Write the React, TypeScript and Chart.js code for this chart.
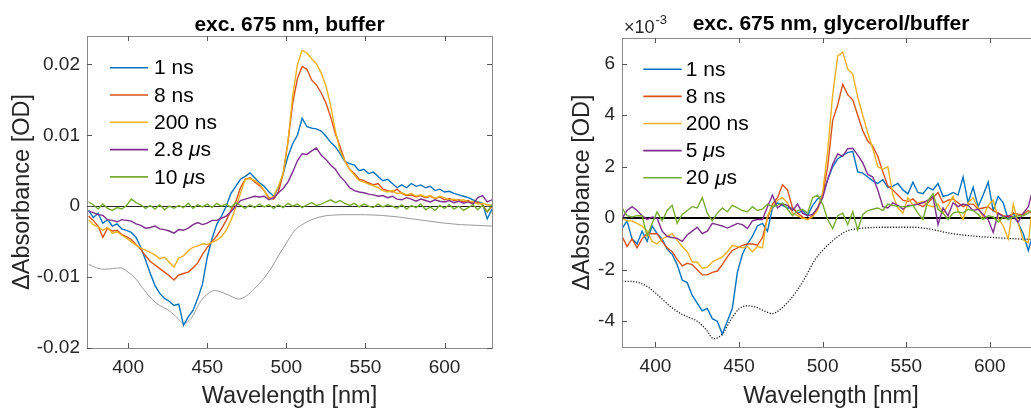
import React, { useEffect, useRef } from "react";
import { Chart, registerables } from "chart.js";

Chart.register(...registerables);

const FONT = "'Liberation Sans', Arial, Helvetica, sans-serif";
const TEXT = "#262626";
const BOX = "#8a8a8a";
const SERIES_COLORS = ["#0072BD", "#D95319", "#EDB120", "#7E2F8E", "#77AC30"];

// ---------- Left panel: exc. 675 nm, buffer (ΔA in OD) ----------
const bufLabels = ["1 ns", "8 ns", "200 ns", "2.8 μs", "10 μs"];
const bufXTicks = [400, 450, 500, 550, 600];
const bufYTicks = [-0.02, -0.01, 0, 0.01, 0.02];
const bufWavelength = [
  375, 378, 381, 384, 387, 390, 393, 396, 399, 402,
  405, 408, 411, 414, 417, 420, 423, 426, 429, 432,
  435, 438, 441, 444, 447, 450, 453, 456, 459, 462,
  465, 468, 471, 474, 477, 480, 483, 486, 489, 492,
  495, 498, 501, 504, 507, 510, 513, 516, 519, 522,
  525, 528, 531, 534, 537, 540, 543, 546, 549, 552,
  555, 558, 561, 564, 567, 570, 573, 576, 579, 582,
  585, 588, 591, 594, 597, 600, 603, 606, 609, 612,
  615, 618, 621, 624, 627, 630,
];
const buf1ns = [
  -0.0006, -0.0016, -0.0010, -0.0024, -0.0019, -0.0028, -0.0025, -0.0032, -0.0034, -0.0037,
  -0.0044, -0.0058, -0.0076, -0.0095, -0.0112, -0.0123, -0.0130, -0.0134, -0.0140, -0.0138,
  -0.0168, -0.0156, -0.0147, -0.0130, -0.0110, -0.0072, -0.0046, -0.0026, -0.0014, 0.0000,
  0.0018, 0.0028, 0.0038, 0.0042, 0.0047, 0.0040, 0.0033, 0.0028, 0.0020, 0.0014,
  0.0026, 0.0046, 0.0070, 0.0088, 0.0100, 0.0124, 0.0112, 0.0110, 0.0109, 0.0106,
  0.0099, 0.0090, 0.0084, 0.0074, 0.0063, 0.0060, 0.0058, 0.0050, 0.0052, 0.0046,
  0.0048, 0.0042, 0.0036, 0.0038, 0.0032, 0.0026, 0.0030, 0.0026, 0.0032, 0.0028,
  0.0030, 0.0026, 0.0028, 0.0022, 0.0024, 0.0020, 0.0021, 0.0018, 0.0016, 0.0014,
  0.0012, 0.0009, 0.0006, 0.0004, -0.0018, -0.0004,
];
const buf8ns = [
  -0.0014, -0.0020, -0.0028, -0.0044, -0.0031, -0.0035, -0.0034, -0.0040, -0.0043, -0.0047,
  -0.0054, -0.0061, -0.0070, -0.0078, -0.0083, -0.0088, -0.0093, -0.0098, -0.0104, -0.0097,
  -0.0095, -0.0093, -0.0087, -0.0080, -0.0068, -0.0058, -0.0050, -0.0042, -0.0032, -0.0020,
  -0.0006, 0.0006, 0.0026, 0.0038, 0.0040, 0.0034, 0.0029, 0.0022, 0.0012, 0.0010,
  0.0020, 0.0046, 0.0090, 0.0145, 0.0180, 0.0197, 0.0193, 0.0178, 0.0171, 0.0160,
  0.0146, 0.0126, 0.0102, 0.0084, 0.0064, 0.0052, 0.0046, 0.0038, 0.0036, 0.0033,
  0.0030, 0.0032, 0.0024, 0.0022, 0.0020, 0.0024, 0.0018, 0.0015, 0.0016, 0.0013,
  0.0015, 0.0012, 0.0014, 0.0011, 0.0013, 0.0009, 0.0011, 0.0008, 0.0009, 0.0006,
  0.0008, 0.0004, 0.0006, 0.0002, -0.0008, 0.0000,
];
const buf200ns = [
  -0.0019, -0.0026, -0.0029, -0.0034, -0.0030, -0.0038, -0.0036, -0.0041, -0.0045, -0.0050,
  -0.0055, -0.0059, -0.0062, -0.0065, -0.0069, -0.0074, -0.0072, -0.0079, -0.0086, -0.0073,
  -0.0070, -0.0063, -0.0058, -0.0056, -0.0053, -0.0054, -0.0051, -0.0048, -0.0043, -0.0034,
  -0.0020, -0.0002, 0.0018, 0.0038, 0.0039, 0.0036, 0.0031, 0.0022, 0.0010, 0.0014,
  0.0028, 0.0046, 0.0090, 0.0155, 0.0200, 0.0220, 0.0216, 0.0208, 0.0201, 0.0188,
  0.0170, 0.0142, 0.0106, 0.0078, 0.0064, 0.0052, 0.0044, 0.0036, 0.0034, 0.0031,
  0.0029, 0.0026, 0.0022, 0.0020, 0.0022, 0.0018, 0.0019, 0.0016, 0.0018, 0.0014,
  0.0016, 0.0013, 0.0015, 0.0011, 0.0014, 0.0012, 0.0009, 0.0010, 0.0008, 0.0009,
  0.0006, 0.0007, 0.0003, 0.0004, 0.0002, 0.0001,
];
const buf2p8us = [
  -0.0007, -0.0009, -0.0012, -0.0013, -0.0019, -0.0020, -0.0022, -0.0019, -0.0020, -0.0021,
  -0.0025, -0.0027, -0.0031, -0.0030, -0.0028, -0.0032, -0.0033, -0.0035, -0.0038, -0.0033,
  -0.0034, -0.0031, -0.0026, -0.0023, -0.0026, -0.0024, -0.0020, -0.0020, -0.0017, -0.0014,
  -0.0008, 0.0000, 0.0008, 0.0010, 0.0012, 0.0014, 0.0013, 0.0014, 0.0009, 0.0012,
  0.0019, 0.0025, 0.0034, 0.0048, 0.0064, 0.0074, 0.0073, 0.0078, 0.0082, 0.0072,
  0.0066, 0.0058, 0.0052, 0.0042, 0.0035, 0.0026, 0.0022, 0.0020, 0.0019, 0.0017,
  0.0016, 0.0014, 0.0015, 0.0012, 0.0014, 0.0010, 0.0009, 0.0012, 0.0010, 0.0007,
  0.0010, 0.0008, 0.0006, 0.0009, 0.0007, 0.0006, 0.0008, 0.0005, 0.0007, 0.0004,
  0.0006, 0.0003, 0.0012, 0.0015, 0.0006, 0.0009,
];
const buf10us = [
  0.0006, 0.0002, -0.0004, 0.0003, -0.0003, -0.0006, -0.0002, -0.0004, 0.0001, 0.0010,
  0.0005, 0.0002, -0.0003, 0.0001, -0.0004, 0.0002, -0.0005, 0.0000, -0.0003, 0.0001,
  -0.0002, 0.0004, -0.0003, 0.0002, -0.0001, 0.0003, -0.0002, 0.0004, 0.0000, 0.0003,
  -0.0002, 0.0005, 0.0001, -0.0003, 0.0002, -0.0002, 0.0003, -0.0001, 0.0002, -0.0003,
  0.0002, -0.0002, 0.0004, 0.0000, 0.0003, -0.0002, 0.0002, 0.0005, 0.0001, 0.0003,
  0.0006, 0.0009, 0.0005, 0.0008, 0.0004, 0.0001, 0.0004, -0.0001, 0.0003, 0.0000,
  -0.0002, 0.0003, -0.0001, 0.0002, 0.0000, -0.0003, 0.0002, -0.0004, 0.0001, -0.0002,
  0.0003, -0.0005, -0.0001, -0.0006, 0.0001, -0.0003, 0.0002, -0.0004, 0.0000, -0.0006,
  -0.0002, 0.0002, -0.0005, 0.0001, -0.0008, 0.0002,
];
const bufRefWavelength = [
  375, 380, 385, 390, 395, 400, 405, 410, 415, 420,
  425, 430, 435, 440, 445, 450, 455, 460, 465, 470,
  475, 480, 485, 490, 495, 500, 505, 510, 515, 520,
  525, 530, 535, 540, 545, 550, 555, 560, 565, 570,
  575, 580, 585, 590, 595, 600, 605, 610, 615, 620,
  625, 630,
];
const bufRef = [
  -0.0082, -0.0087, -0.0089, -0.0088, -0.0087, -0.0093, -0.0103, -0.0118, -0.0131, -0.0140,
  -0.0146, -0.0155, -0.0165, -0.0158, -0.0137, -0.0124, -0.0119, -0.0122, -0.0127, -0.0131,
  -0.0126, -0.0116, -0.0104, -0.0089, -0.0070, -0.0052, -0.0035, -0.0026, -0.0020, -0.0016,
  -0.00135, -0.00125, -0.0012, -0.0012, -0.0012, -0.0012, -0.00125, -0.0013, -0.0014, -0.0015,
  -0.00165, -0.0018, -0.00195, -0.0021, -0.00225, -0.0024, -0.0025, -0.0026, -0.00265, -0.0027,
  -0.00275, -0.0028,
];

// ---------- Right panel: exc. 675 nm, glycerol/buffer (ΔA in 10^-3 OD) ----------
const glyLabels = ["1 ns", "8 ns", "200 ns", "5 μs", "20 μs"];
const glyXTicks = [400, 450, 500, 550, 600];
const glyYTicks = [-4, -2, 0, 2, 4, 6];
const glyWavelength = [
  380, 383, 386, 389, 392, 395, 398, 401, 404, 407,
  410, 413, 416, 419, 422, 425, 428, 431, 434, 437,
  440, 443, 446, 449, 452, 455, 458, 461, 464, 467,
  470, 473, 476, 479, 482, 485, 488, 491, 494, 497,
  500, 503, 506, 509, 512, 515, 518, 521, 524, 527,
  530, 533, 536, 539, 542, 545, 548, 551, 554, 557,
  560, 563, 566, 569, 572, 575, 578, 581, 584, 587,
  590, 593, 596, 599, 602, 605, 608, 611, 614, 617,
  620, 623, 625,
];
const gly1ns = [
  -0.4, -0.1, -0.8, -1.0, -0.5, -0.9, -0.3, -0.6, -0.8, -1.2,
  -1.4, -1.8, -2.4, -2.5, -3.0, -3.3, -3.6, -3.5, -3.9, -4.0,
  -4.5, -4.0, -3.5, -2.1, -1.4, -1.0, -0.7, -0.3, -0.2, -0.5,
  0.4, 0.6, 0.5, 0.4, 0.4, 0.2, 0.3, 0.1, 0.5, 0.75,
  0.9, 1.5, 2.0, 2.3, 2.45, 2.55, 2.6, 1.8, 1.75, 1.6,
  1.45, 1.35, 1.5, 1.2, 1.25, 1.35, 1.1, 0.95, 1.4, 1.0,
  0.95, 1.2, 1.1, 1.35, 0.85, 0.9, 1.0, 0.9, 1.6, 0.6,
  1.2, 0.45, 0.9, 1.4, 0.3, 0.85, 0.6, -0.05, 0.2, -0.2,
  -0.6, -1.25, -0.8,
];
const gly8ns = [
  -0.7, -1.1, -0.8, -1.15, -0.8, -0.6, -0.6, -0.6, -0.9, -1.15,
  -1.3, -1.6, -1.85, -1.75, -1.8, -2.0, -2.2, -2.2, -2.1, -2.05,
  -1.8, -1.5, -1.25, -1.15, -1.05, -1.0, -1.0, -1.05, -0.75, 0.0,
  0.55, 0.8, 1.3, 1.1, 0.4, 0.2, 0.05, -0.05, 0.1, 0.4,
  0.9, 2.0, 3.8, 4.4, 5.2, 4.8, 4.6, 4.0, 3.4, 3.0,
  2.8, 2.4, 1.8, 1.25, 1.1, 0.9, 0.7, 0.65, 0.75, 0.55,
  0.45, 0.6, 0.8, 1.0, 0.6, 0.7, 0.75, 0.6, 0.45, 0.55,
  0.55, 0.35, 0.4, 0.45, 0.3, 0.2, 0.1, 0.05, 0.2, 0.15,
  0.15, 0.3, 0.2,
];
const gly200ns = [
  0.0, -0.1, -0.1, -0.2, -0.3, -0.5, -0.9, -1.0, -0.8, -0.7,
  -0.6, -0.85, -1.1, -1.3, -1.7, -1.7, -1.95, -1.9, -1.7, -1.6,
  -1.5, -1.3, -1.05, -1.1, -1.15, -1.1, -1.3, -1.1, -1.15, 0.1,
  0.45, 0.7, 0.8, 0.6, 0.2, 0.1, 0.0, -0.05, 0.05, 0.3,
  1.0, 2.6, 4.8, 6.3, 6.45, 5.8, 5.6, 4.7, 4.0, 3.3,
  2.7, 2.0, 1.9, 2.0, 0.9, 0.4, 0.2, 0.8, 0.5, 0.6,
  0.65, 0.5, 0.45, 0.55, 0.2, 0.5, 0.85, 0.3, -0.05, 0.6,
  0.8, 0.4, 0.05, 0.5, 0.7, 0.0, -0.3, -0.8, 0.55, -0.2,
  -0.85, -0.95, 0.2,
];
const gly5us = [
  0.0, 0.3, 0.45, 0.3, 0.1, -0.05, 0.05, 0.0, -0.5, -0.7,
  -0.75, -0.78, -0.9, -0.65, -0.5, -0.35, -0.6, -0.5, -0.2, -0.25,
  -0.3, -0.38, -0.3, -0.2, -0.25, -0.4, -0.1, -0.05, -0.05, 0.45,
  0.9, 0.4, 0.55, 0.5, 0.3, 0.55, 0.2, 0.1, 0.15, 0.4,
  0.8, 1.5, 2.1, 2.5, 2.4, 2.7, 2.72, 2.45, 2.15, 1.7,
  1.6, 1.1, 0.45, 0.4, 0.6, 0.5, 0.35, 0.5, 0.5, 0.55,
  0.6, 0.7, 0.85, -0.25, 0.4, 0.1, 0.6, 0.45, 0.55, 0.5,
  0.3, 0.35, 0.15, -0.05, -0.55, 0.2, 0.05, 0.1, 0.05, -0.15,
  0.2, 0.45, 0.95,
];
const gly20us = [
  0.4, 0.1, 0.05, 0.1, 0.1, -0.7, -0.2, 0.25, -0.1, 0.3,
  0.5, -0.2, 0.15, 0.3, 0.45, 0.4, 0.8, 0.2, -0.1, 0.2,
  0.4, 0.25, 0.5, 0.4, 0.3, 0.25, 0.45, 0.3, 0.35, 0.55,
  0.45, 0.5, 0.6, 0.35, 0.1, 0.3, 0.35, 0.2, 0.8, 0.9,
  0.55, -0.05, -0.4, 0.1, 0.2, -0.25, 0.25, -0.45, 0.15, 0.3,
  0.35, 0.4, 0.3, 0.55, 0.5, 0.45, 0.45, 0.45, 0.5, 0.2,
  -0.05, 0.7, 0.95, 0.35, 0.2, -0.05, 0.2, 0.25, 0.2, 0.35,
  0.3, 0.15, -0.05, 0.1, 0.05, -0.15, 0.05, -0.05, 0.05, 0.1,
  0.1, 0.2, 0.3,
];
const glyRefWavelength = [
  380, 385, 390, 395, 400, 405, 410, 415, 420, 425,
  430, 435, 440, 445, 450, 455, 460, 465, 470, 475,
  480, 485, 490, 495, 500, 505, 510, 515, 520, 525,
  530, 535, 540, 545, 550, 555, 560, 565, 570, 575,
  580, 585, 590, 595, 600, 605, 610, 615, 620, 625,
];
const glyRef = [
  -2.45, -2.45, -2.5, -2.65, -2.9, -3.2, -3.48, -3.7, -3.85, -4.0,
  -4.3, -4.68, -4.5, -3.95, -3.52, -3.4, -3.45, -3.6, -3.7, -3.52,
  -3.2, -2.78, -2.25, -1.65, -1.25, -0.93, -0.67, -0.48, -0.41, -0.38,
  -0.36, -0.35, -0.35, -0.35, -0.35, -0.35, -0.38, -0.43, -0.5, -0.57,
  -0.62, -0.66, -0.69, -0.72, -0.74, -0.76, -0.78, -0.8, -0.81, -0.82,
];

const pairs = (xs: number[], ys: number[]) => xs.map((x, i) => ({ x, y: ys[i] }));

function seriesDatasets(xs: number[], series: number[][], labels: string[]) {
  return series.map((ys, i) => ({
    label: labels[i],
    data: pairs(xs, ys),
    borderColor: SERIES_COLORS[i],
    borderWidth: 1.4,
    pointRadius: 0,
    tension: 0,
    fill: false,
    order: series.length - i + 1,
  }));
}

function drawLabel(ctx: CanvasRenderingContext2D, text: string, x: number, y: number, size: number) {
  const parts = text.split("μ");
  let cx = x;
  parts.forEach((p, i) => {
    if (i > 0) {
      ctx.font = `italic ${size}px ${FONT}`;
      ctx.fillText("μ", cx, y);
      cx += ctx.measureText("μ").width;
    }
    ctx.font = `${size}px ${FONT}`;
    ctx.fillText(p, cx, y);
    cx += ctx.measureText(p).width;
  });
}

const framePlugin = {
  id: "frame",
  beforeDatasetsDraw(chart: any, _args: any, opts: any) {
    const { ctx, chartArea } = chart;
    const yz = chart.scales.y.getPixelForValue(0);
    const y = Math.round(yz) + (opts.zeroWidth % 2 ? 0.5 : 0);
    ctx.save();
    ctx.strokeStyle = opts.zeroColor;
    ctx.lineWidth = opts.zeroWidth;
    ctx.beginPath();
    ctx.moveTo(chartArea.left, y);
    ctx.lineTo(chartArea.right, y);
    ctx.stroke();
    ctx.restore();
  },
  afterDraw(chart: any, _args: any, opts: any) {
    const { ctx, chartArea } = chart;
    const { left, right, top, bottom } = chartArea;
    ctx.save();
    // box
    ctx.strokeStyle = BOX;
    ctx.lineWidth = 1;
    ctx.strokeRect(Math.round(left) + 0.5, Math.round(top) + 0.5, Math.round(right - left), Math.round(bottom - top));
    // ticks (inward, all four sides)
    ctx.strokeStyle = "#555555";
    const tl = 5;
    ctx.beginPath();
    chart.scales.x.ticks.forEach((t: any) => {
      const px = Math.round(chart.scales.x.getPixelForValue(t.value)) + 0.5;
      ctx.moveTo(px, bottom);
      ctx.lineTo(px, bottom - tl);
      ctx.moveTo(px, top);
      ctx.lineTo(px, top + tl);
    });
    chart.scales.y.ticks.forEach((t: any) => {
      const py = Math.round(chart.scales.y.getPixelForValue(t.value)) + 0.5;
      ctx.moveTo(left, py);
      ctx.lineTo(left + tl, py);
      ctx.moveTo(right, py);
      ctx.lineTo(right - tl, py);
    });
    ctx.stroke();
    // title
    ctx.fillStyle = "#000000";
    ctx.font = `bold 21px ${FONT}`;
    ctx.textAlign = "center";
    ctx.textBaseline = "alphabetic";
    ctx.fillText(opts.title, (left + right) / 2, opts.titleY);
    // exponent
    if (opts.exponent) {
      ctx.fillStyle = TEXT;
      ctx.textAlign = "left";
      ctx.font = `18px ${FONT}`;
      ctx.fillText("×10", left + 2, 33);
      const w = ctx.measureText("×10").width;
      ctx.font = `13px ${FONT}`;
      ctx.fillText("-3", left + 3 + w, 24);
    }
    // legend
    const lg = opts.legend;
    ctx.textAlign = "left";
    ctx.textBaseline = "middle";
    lg.items.forEach((it: any, i: number) => {
      const y = lg.y0 + i * lg.dy;
      ctx.strokeStyle = it.color;
      ctx.lineWidth = 1.6;
      ctx.beginPath();
      ctx.moveTo(lg.x0, y);
      ctx.lineTo(lg.x1, y);
      ctx.stroke();
      ctx.fillStyle = "#000000";
      drawLabel(ctx, it.label, lg.tx, y + 1, 21);
    });
    ctx.restore();
  },
};

type PanelOpts = {
  datasets: any[];
  xMin: number;
  xMax: number;
  yMin: number;
  yMax: number;
  xTicks: number[];
  yTicks: number[];
  yFormat: (v: number) => string;
  padTop: number;
  padRight: number;
  yWidth: number;
  xHeight: number;
  yTitlePad: number;
  frame: any;
};

function makeConfig(p: PanelOpts): any {
  const tickFont = { family: FONT, size: 19 };
  const titleFont = { family: FONT, size: 23.5, lineHeight: 1 };
  return {
    type: "line",
    data: { datasets: p.datasets },
    options: {
      responsive: false,
      animation: false,
      layout: { padding: { left: 0, right: p.padRight, top: p.padTop, bottom: 0 } },
      plugins: {
        legend: { display: false },
        tooltip: { enabled: false },
        frame: p.frame,
      },
      scales: {
        x: {
          type: "linear",
          min: p.xMin,
          max: p.xMax,
          afterBuildTicks: (s: any) => {
            s.ticks = p.xTicks.map((value) => ({ value }));
          },
          afterFit: (s: any) => {
            s.height = p.xHeight;
          },
          grid: { display: false, drawTicks: false },
          border: { display: false },
          ticks: {
            padding: 8,
            color: TEXT,
            font: tickFont,
            maxRotation: 0,
            autoSkip: false,
            callback: (v: number) => String(v),
          },
          title: {
            display: true,
            text: "Wavelength [nm]",
            color: TEXT,
            font: titleFont,
            padding: { top: 0, bottom: 0 },
          },
        },
        y: {
          type: "linear",
          min: p.yMin,
          max: p.yMax,
          afterBuildTicks: (s: any) => {
            s.ticks = p.yTicks.map((value) => ({ value }));
          },
          afterFit: (s: any) => {
            s.width = p.yWidth;
          },
          grid: { display: false, drawTicks: false },
          border: { display: false },
          ticks: {
            padding: 7,
            color: TEXT,
            font: tickFont,
            autoSkip: false,
            callback: (v: number) => p.yFormat(v),
          },
          title: {
            display: true,
            text: "ΔAbsorbance [OD]",
            color: TEXT,
            font: titleFont,
            padding: { top: p.yTitlePad, bottom: 0 },
          },
        },
      },
    },
    plugins: [framePlugin],
  };
}

function leftConfig() {
  const datasets: any[] = seriesDatasets(
    bufWavelength,
    [buf1ns, buf8ns, buf200ns, buf2p8us, buf10us],
    bufLabels
  );
  datasets.push({
    label: "reference",
    data: pairs(bufRefWavelength, bufRef),
    borderColor: "#9a9a9a",
    borderWidth: 1,
    pointRadius: 0,
    tension: 0.4,
    cubicInterpolationMode: "monotone",
    fill: false,
    order: 10,
  });
  return makeConfig({
    datasets,
    xMin: 374,
    xMax: 630,
    yMin: -0.02,
    yMax: 0.024,
    xTicks: bufXTicks,
    yTicks: bufYTicks,
    yFormat: (v) => (Math.abs(v) < 1e-9 ? "0" : Number(v).toFixed(2)),
    padTop: 36,
    padRight: 18,
    yWidth: 87,
    xHeight: 60,
    yTitlePad: 10.5,
    frame: {
      title: "exc. 675 nm, buffer",
      titleY: 31,
      exponent: false,
      zeroColor: "#262626",
      zeroWidth: 1,
      legend: {
        x0: 110,
        x1: 148,
        tx: 154,
        y0: 67.7,
        dy: 27.3,
        items: bufLabels.map((label, i) => ({ label, color: SERIES_COLORS[i] })),
      },
    },
  });
}

function rightConfig() {
  const datasets: any[] = seriesDatasets(
    glyWavelength,
    [gly1ns, gly8ns, gly200ns, gly5us, gly20us],
    glyLabels
  );
  datasets.push({
    label: "reference",
    data: pairs(glyRefWavelength, glyRef),
    borderColor: "#1a1a1a",
    borderWidth: 1.3,
    borderDash: [1.2, 1.6],
    pointRadius: 0,
    tension: 0.4,
    cubicInterpolationMode: "monotone",
    fill: false,
    order: 10,
  });
  return makeConfig({
    datasets,
    xMin: 380,
    xMax: 630,
    yMin: -5,
    yMax: 7,
    xTicks: glyXTicks,
    yTicks: glyYTicks,
    yFormat: (v) => String(Math.round(v)),
    padTop: 38,
    padRight: 0,
    yWidth: 102,
    xHeight: 61,
    yTitlePad: 50.5,
    frame: {
      title: "exc. 675 nm, glycerol/buffer",
      titleY: 30,
      exponent: true,
      zeroColor: "#000000",
      zeroWidth: 2,
      legend: {
        x0: 123.3,
        x1: 161.7,
        tx: 165.7,
        y0: 69.3,
        dy: 27.1,
        items: glyLabels.map((label, i) => ({ label, color: SERIES_COLORS[i] })),
      },
    },
  });
}

function Panel({ make, left, width }: { make: () => any; left: number; width: number }) {
  const ref = useRef<HTMLCanvasElement>(null);
  useEffect(() => {
    if (!ref.current) return;
    const chart = new Chart(ref.current, make());
    return () => chart.destroy();
  }, [make]);
  return (
    <canvas
      ref={ref}
      width={width}
      height={408}
      style={{ position: "absolute", left, top: 0, width, height: 408 }}
    />
  );
}

export default function App() {
  return (
    <div
      style={{
        position: "fixed",
        left: 0,
        top: 0,
        width: 1031,
        height: 408,
        overflow: "hidden",
        background: "#ffffff",
      }}
    >
      <Panel make={leftConfig} left={0} width={510} />
      <Panel make={rightConfig} left={520} width={520} />
    </div>
  );
}
